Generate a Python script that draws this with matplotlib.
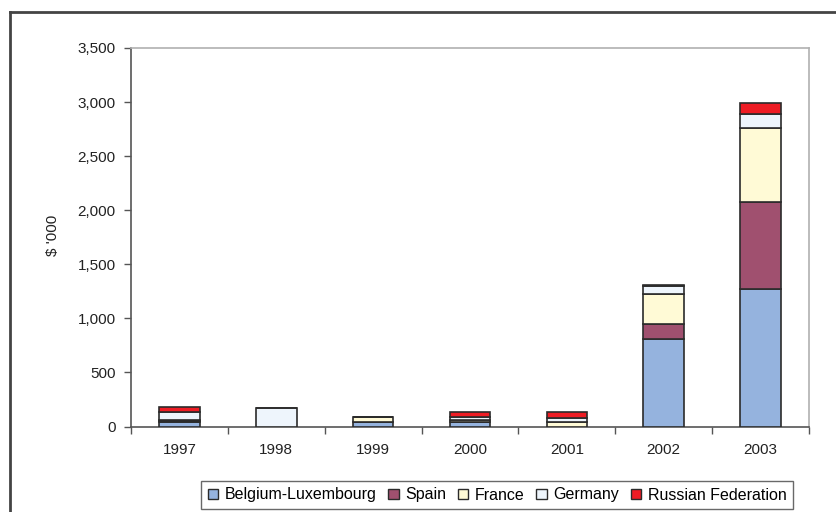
import numpy as np
import matplotlib.pyplot as plt
from matplotlib.lines import Line2D
from matplotlib.patches import Patch

plt.rcParams['font.family'] = ['Liberation Sans', 'DejaVu Sans']

years = ['1997', '1998', '1999', '2000', '2001', '2002', '2003']
countries = ['Belgium-Luxembourg', 'Spain', 'France', 'Germany', 'Russian Federation']

# values in $ '000
belgium = [45, 0, 46, 38, 0, 813, 1268]
spain = [8, 0, 0, 0, 0, 132, 810]
france = [8, 0, 46, 22, 40, 283, 680]
germany = [70, 170, 0, 28, 35, 75, 133]
russia = [52, 0, 0, 45, 55, 8, 98]

colors = ['#95b3de', '#a0506f', '#fffad6', '#eef5fc', '#ee1c24']

fig = plt.figure(figsize=(8.36, 5.12), dpi=100)
ax = fig.add_axes([131 / 836, 1 - 426.5 / 512, (809 - 131) / 836, (426.5 - 48) / 512])

x = np.arange(len(years))
bottom = np.zeros(len(years))
for vals, col in zip([belgium, spain, france, germany, russia], colors):
    ax.bar(x, vals, width=0.42, bottom=bottom, color=col,
           edgecolor='#2b2b2b', linewidth=1.2, zorder=3)
    bottom += np.array(vals)

ax.set_xlim(-0.5, len(years) - 0.5)
ax.set_ylim(0, 3500)
ax.set_yticks(np.arange(0, 3501, 500))
ax.set_yticklabels([f'{v:,}' for v in range(0, 3501, 500)])
ax.set_xticks(x)
ax.set_xticklabels(years)
ax.set_xticks(np.arange(-0.5, len(years), 1), minor=True)
ax.tick_params(axis='x', which='major', length=0, pad=12, labelsize=11, colors='#222222')
ax.tick_params(axis='x', which='minor', length=5, width=1, color='#555555', direction='out')
ax.tick_params(axis='y', length=5, width=1, color='#555555', labelsize=11, labelcolor='#222222', pad=6)

for s in ['left', 'bottom']:
    ax.spines[s].set_color('#555555')
    ax.spines[s].set_linewidth(1.2)
for s in ['top', 'right']:
    ax.spines[s].set_color('#b0b0b0')
    ax.spines[s].set_linewidth(1.2)

fig.text(53 / 836, 1 - 235 / 512, "$ '000", rotation=90, ha='center', va='center',
         fontsize=11, color='#222222')

handles = [Patch(facecolor=c, edgecolor='#2b2b2b', linewidth=1) for c in colors]
leg = fig.legend(handles, countries, ncol=5, loc='center',
                 bbox_to_anchor=(497 / 836, 1 - 495 / 512),
                 frameon=True, fancybox=False, fontsize=11.5,
                 handlelength=0.65, handleheight=0.65, handletextpad=0.4,
                 columnspacing=0.75, borderpad=0.4)
leg.get_frame().set_edgecolor('#444444')
leg.get_frame().set_linewidth(1.0)

# outer chart border (left and top visible)
fig.add_artist(Line2D([10 / 836, 10 / 836], [-0.01, 1 - 12 / 512], color='#444444', lw=2))
fig.add_artist(Line2D([10 / 836, 1.0], [1 - 12 / 512, 1 - 12 / 512], color='#444444', lw=2))

fig.savefig('out.png', dpi=100)
